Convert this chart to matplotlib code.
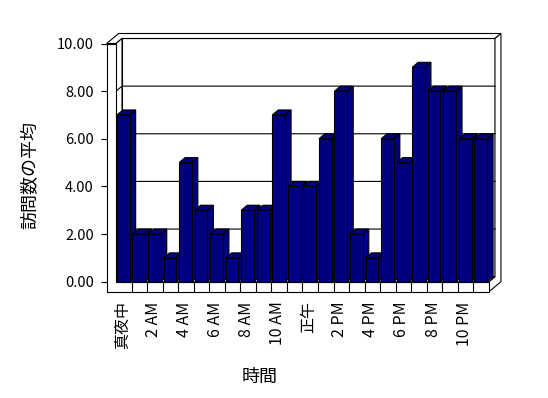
import matplotlib
matplotlib.use("Agg")
import matplotlib.pyplot as plt
from matplotlib.patches import Polygon

plt.rcParams['font.family'] = ['Noto Sans CJK JP', 'DejaVu Sans']

# average visits per hour of the day
hours = list(range(24))
visits = [7, 2, 2, 1, 5, 3, 2, 1, 3, 3, 7, 4, 4, 6, 8, 2, 1, 6, 5, 9, 8, 8, 6, 6]
hour_labels = ['真夜中', '2 AM', '4 AM', '6 AM', '8 AM', '10 AM',
               '正午', '2 PM', '4 PM', '6 PM', '8 PM', '10 PM']
y_ticks = [0, 2, 4, 6, 8, 10]

NAVY = '#000080'
LW = 0.8

# pixel layout of the pseudo 3d box
W, H = 548, 398
CAT_PX = 15.54      # one category in px
UNIT_PX = 23.82     # one value unit in px
X0_PX, Y0_PX = 116.0, 281.7   # category 0 / value 0 on the front plane
DEPTH_PX = (6.0, 5.0)

dx = DEPTH_PX[0] / CAT_PX
dy = DEPTH_PX[1] / UNIT_PX
wall = -0.6          # left wall thickness in category units
floor = -10.0 / UNIT_PX
n = len(hours)
top = max(y_ticks)

xmin, xmax = wall, n + 2 * dx
ymin, ymax = floor, top + 2 * dy

fig = plt.figure(figsize=(W / 100, H / 100), dpi=100)
left_px = X0_PX + xmin * CAT_PX
right_px = X0_PX + xmax * CAT_PX
bot_px = Y0_PX - ymin * UNIT_PX
top_px = Y0_PX - ymax * UNIT_PX
ax = fig.add_axes([left_px / W, 1 - bot_px / H,
                   (right_px - left_px) / W, (bot_px - top_px) / H])
ax.set_xlim(xmin, xmax)
ax.set_ylim(ymin, ymax)
for s in ax.spines.values():
    s.set_visible(False)


def face(pts, z, fc='white'):
    ax.add_patch(Polygon(pts, closed=True, fc=fc, ec='black', lw=LW,
                         zorder=z, joinstyle='miter', clip_on=False))


def edge(xs, ys, z):
    ax.plot(xs, ys, color='black', lw=LW, zorder=z, clip_on=False)


# back wall
face([(dx, dy), (n + dx, dy), (n + dx, top + dy), (dx, top + dy)], 1)
# top of walls
face([(wall, top), (wall + 2 * dx, top + 2 * dy), (n + 2 * dx, top + 2 * dy),
      (n + dx, top + dy), (dx, top + dy), (0, top)], 1)
# right side of back wall + floor
face([(n, 0), (n, floor), (n + 2 * dx, floor + 2 * dy),
      (n + 2 * dx, top + 2 * dy), (n + dx, top + dy), (n + dx, dy)], 1)
# inner face of left wall
face([(0, 0), (0, top), (dx, top + dy), (dx, dy)], 2)
# gridlines
for v in y_ticks[1:-1]:
    edge([0, dx, n + dx], [v, v + dy, v + dy], 3)
# floor top
face([(0, 0), (n, 0), (n + dx, dy), (dx, dy)], 4)
# front of left wall and floor
face([(wall, floor), (n, floor), (n, 0), (0, 0), (0, top), (wall, top)], 5)
for i in hours[1:]:
    edge([i, i], [floor, 0], 5)

# bars, drawn left to right so each front hides the previous side
b0, b1 = 0.06, 0.88
bars = ax.bar([h + b0 for h in hours], visits, width=b1 - b0, align='edge',
              color=NAVY, edgecolor='black', linewidth=LW)
for i, (h, v) in enumerate(zip(hours, visits)):
    z = 10 + 3 * i
    x0, x1 = h + b0, h + b1
    face([(x1, 0), (x1 + dx, dy), (x1 + dx, v + dy), (x1, v)], z, NAVY)
    face([(x0, v), (x1, v), (x1 + dx, v + dy), (x0 + dx, v + dy)], z, NAVY)
    bars[i].set_zorder(z + 2)
    bars[i].set_clip_on(False)

ax.set_yticks(y_ticks)
ax.set_yticklabels([f'{v:.2f}' for v in y_ticks])
ax.tick_params(axis='y', length=4.3, width=LW, pad=5, labelsize=10.5)
ax.set_xticks([h + 0.4 for h in hours[::2]])
ax.set_xticklabels(hour_labels, rotation=90)
ax.tick_params(axis='x', length=0, pad=7, labelsize=11.5)

ax.set_ylabel('訪問数の平均', fontsize=13)
ax.yaxis.set_label_coords((30 - left_px) / (right_px - left_px),
                          (bot_px - 175) / (bot_px - top_px))
ax.set_xlabel('時間', fontsize=13)
ax.xaxis.set_label_coords((260 - left_px) / (right_px - left_px),
                          -(377 - bot_px) / (bot_px - top_px))
ax.xaxis.label.set_va('center')
ax.yaxis.label.set_va('center')

fig.savefig('out.png', dpi=100)
